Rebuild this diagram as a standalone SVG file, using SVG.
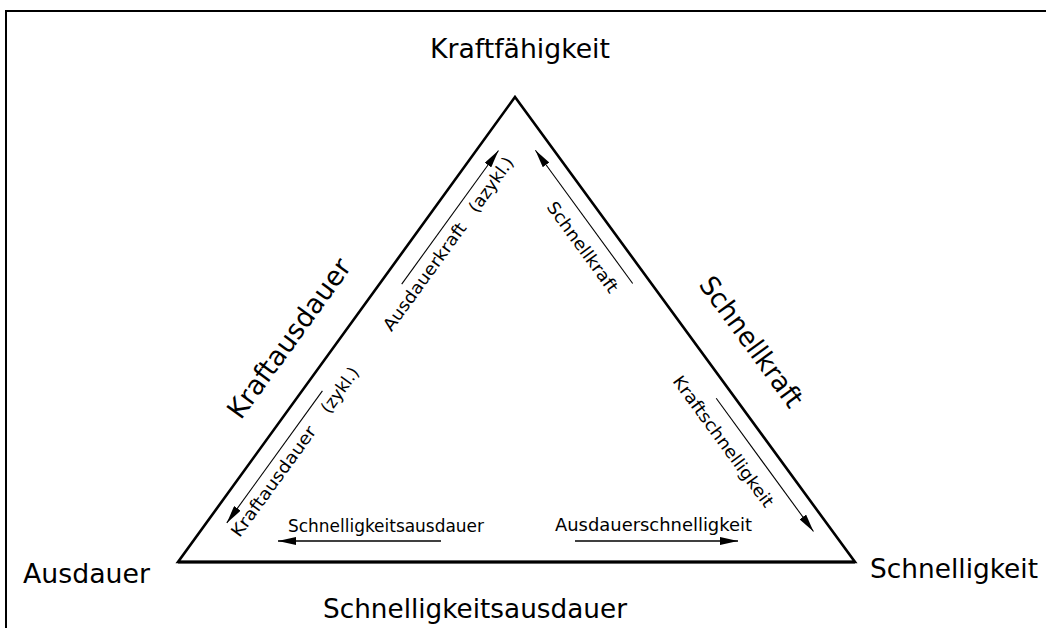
<svg xmlns="http://www.w3.org/2000/svg" width="1046" height="628" viewBox="0 0 1046 628">
<style>
  .big{font-family:"DejaVu Sans","Liberation Sans",sans-serif;font-size:27px;fill:#000}
  .small{font-family:"DejaVu Sans","Liberation Sans",sans-serif;font-size:17px;fill:#000}
  .edge{fill:none;stroke:#000;stroke-width:2.6;stroke-linejoin:miter}
  .arr{fill:none;stroke:#000;stroke-width:1.1}
  .arrb{fill:none;stroke:#000;stroke-width:1.5}
  .frame{fill:none;stroke:#000;stroke-width:2}
</style>
<defs>
  <marker id="ah" viewBox="0 0 18 8" refX="18" refY="4" markerWidth="18" markerHeight="8" markerUnits="userSpaceOnUse" orient="auto">
    <path d="M0,0 L18,4 L0,8 z" fill="#000"/>
  </marker>
</defs>
<rect width="1046" height="628" fill="#fff"/>
<path class="frame" d="M6,628 V11 H1046"/>

<g id="triangle">
  <path class="edge" d="M515,97 L855,562 L178,562 Z"/>
  <line x1="178" y1="562" x2="855" y2="562" stroke="#000" stroke-width="3.2"/>
</g>

<g id="node-kraftfaehigkeit"><text class="big" x="520" y="58" text-anchor="middle" textLength="180" lengthAdjust="spacingAndGlyphs">Kraftfähigkeit</text></g>
<g id="node-ausdauer"><text class="big" x="23" y="583" textLength="127" lengthAdjust="spacingAndGlyphs">Ausdauer</text></g>
<g id="node-schnelligkeit"><text class="big" x="870" y="578" textLength="168" lengthAdjust="spacingAndGlyphs">Schnelligkeit</text></g>

<g id="edge-labels">
  <text class="big" transform="translate(296.6,343.8) rotate(-54.07)" text-anchor="middle" textLength="190" lengthAdjust="spacingAndGlyphs">Kraftausdauer</text>
  <text class="big" transform="translate(743.8,347.2) rotate(53.83)" text-anchor="middle" textLength="155" lengthAdjust="spacingAndGlyphs">Schnellkraft</text>
  <text class="big" x="323" y="618" textLength="304" lengthAdjust="spacingAndGlyphs">Schnelligkeitsausdauer</text>
</g>

<g id="connectors">
  <line class="arr" x1="401.7" y1="284.1" x2="498.5" y2="150.5" marker-end="url(#ah)"/>
  <line class="arr" x1="322.4" y1="390.9" x2="226.8" y2="522.9" marker-end="url(#ah)"/>
  <line class="arr" x1="632.7" y1="283.5" x2="535.4" y2="150.3" marker-end="url(#ah)"/>
  <line class="arr" x1="716.2" y1="398.3" x2="813.5" y2="531.5" marker-end="url(#ah)"/>
  <line class="arrb" x1="441" y1="541" x2="278" y2="541" marker-end="url(#ah)"/>
  <line class="arrb" x1="575" y1="541" x2="738" y2="541" marker-end="url(#ah)"/>
</g>

<g id="arrow-labels">
  <text class="small" transform="translate(391.5,332.3) rotate(-54.07)" textLength="129" lengthAdjust="spacingAndGlyphs">Ausdauerkraft</text>
  <text class="small" transform="translate(477,214) rotate(-54.07)" textLength="64" lengthAdjust="spacingAndGlyphs">(azykl.)</text>
  <text class="small" transform="translate(239.6,538.3) rotate(-54.07)" textLength="132" lengthAdjust="spacingAndGlyphs">Kraftausdauer</text>
  <text class="small" transform="translate(329.3,414.5) rotate(-54.07)" textLength="52" lengthAdjust="spacingAndGlyphs">(zykl.)</text>
  <text class="small" transform="translate(545.9,207) rotate(53.83)" textLength="108" lengthAdjust="spacingAndGlyphs">Schnellkraft</text>
  <text class="small" transform="translate(671.9,381.1) rotate(53.83)" textLength="158" lengthAdjust="spacingAndGlyphs">Kraftschnelligkeit</text>
  <text class="small" x="288" y="532" textLength="196" lengthAdjust="spacingAndGlyphs">Schnelligkeitsausdauer</text>
  <text class="small" x="555" y="531" textLength="197" lengthAdjust="spacingAndGlyphs">Ausdauerschnelligkeit</text>
</g>
</svg>
